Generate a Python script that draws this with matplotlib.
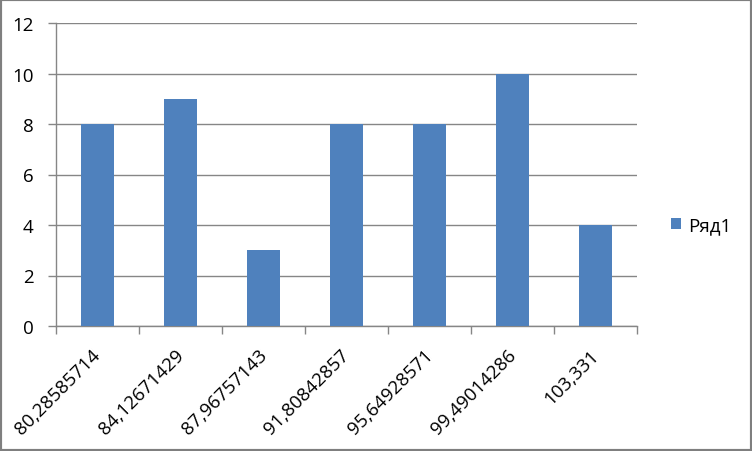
import matplotlib
matplotlib.use("Agg")
import matplotlib.pyplot as plt
from matplotlib.patches import Rectangle
from matplotlib.transforms import ScaledTranslation

categories = ["80,28585714", "84,12671429", "87,96757143", "91,80842857",
              "95,64928571", "99,49014286", "103,331"]
values = [8, 9, 3, 8, 8, 10, 4]
series_name = "Ряд1"
yticks = [0, 2, 4, 6, 8, 10, 12]

plt.rcParams['font.family'] = ['Open Sans', 'DejaVu Sans']
FS = 13.5

fig = plt.figure(figsize=(7.52, 4.52), dpi=100)
ax = fig.add_axes([56/752, 1-327/452, (637-56)/752, (327-24)/452])

color = "#4F81BD"
grid = "#868686"
x = list(range(len(categories)))
bars = ax.bar(x, values, width=0.4, color=color, zorder=3, label=series_name)

ax.set_xlim(-0.5, len(categories)-0.5)
ax.set_ylim(0, 12)
ax.set_yticks(yticks)
ax.set_yticklabels([str(t) for t in yticks], fontsize=FS)
ax.yaxis.grid(True, color=grid, linewidth=1, zorder=0)
ax.set_axisbelow(True)

ax.set_xticks([i - 0.5 for i in range(len(categories)+1)], minor=False)
ax.set_xticklabels([])
ax.tick_params(axis='x', which='major', length=6, color=grid, width=1)
ax.set_xticks(x, minor=True)
ax.set_xticklabels(categories, minor=True, rotation=45, ha='right',
                   rotation_mode='anchor', fontsize=FS)
ax.tick_params(axis='x', which='minor', length=0, pad=14)
ax.tick_params(axis='y', length=6, color=grid, width=1, pad=10)
offset = ScaledTranslation(-6/100, 0, fig.dpi_scale_trans)
for lbl in ax.get_xticklabels(minor=True):
    lbl.set_transform(lbl.get_transform() + offset)

for s in ['top', 'right']:
    ax.spines[s].set_visible(False)
for s in ['left', 'bottom']:
    ax.spines[s].set_color(grid)
    ax.spines[s].set_linewidth(1)

fig.legend(handles=[bars], labels=[series_name], loc='center left',
           bbox_to_anchor=(671/752, 1-226/452), frameon=False, fontsize=FS,
           handlelength=0.55, handleheight=0.55, handletextpad=0.35,
           borderpad=0, borderaxespad=0)

fig.patches.append(Rectangle((0, 0), 1, 1, transform=fig.transFigure,
                             fill=False, edgecolor="#7f7f7f", linewidth=3))

fig.savefig("out.png", dpi=100)
